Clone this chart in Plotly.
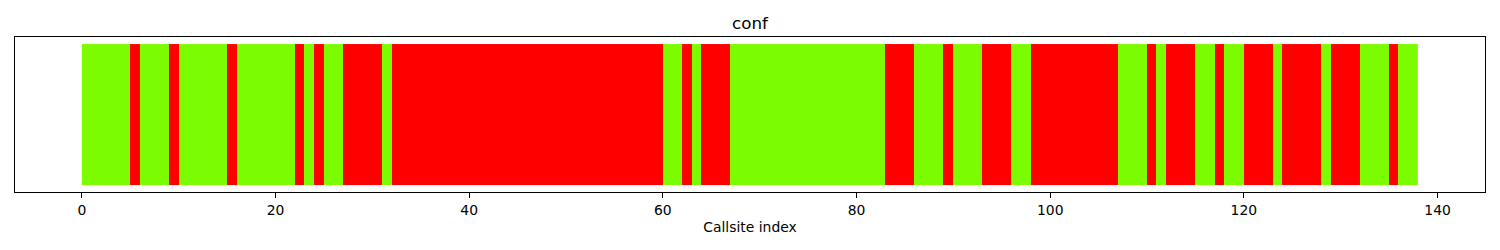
import plotly.graph_objects as go

# 1 = confident (green), 0 = not confident (red), one value per callsite index
conf = [
    1, 1, 1, 1, 1, 0, 1, 1, 1, 0, 1, 1, 1, 1, 1, 0, 1, 1, 1, 1,
    1, 1, 0, 1, 0, 1, 1, 0, 0, 0, 0, 1, 0, 0, 0, 0, 0, 0, 0, 0,
    0, 0, 0, 0, 0, 0, 0, 0, 0, 0, 0, 0, 0, 0, 0, 0, 0, 0, 0, 0,
    1, 1, 0, 1, 0, 0, 0, 1, 1, 1, 1, 1, 1, 1, 1, 1, 1, 1, 1, 1,
    1, 1, 1, 0, 0, 0, 1, 1, 1, 0, 1, 1, 1, 0, 0, 0, 1, 1, 0, 0,
    0, 0, 0, 0, 0, 0, 0, 1, 1, 1, 0, 1, 0, 0, 0, 1, 1, 0, 1, 1,
    0, 0, 0, 1, 0, 0, 0, 0, 1, 0, 0, 0, 1, 1, 1, 0, 1, 1,
]
n = len(conf)
cell_edges_x = list(range(n + 1))   # each callsite occupies [i, i+1)
cell_edges_y = [0, 1]               # bar height 1
green = "#7CFC00"
red = "#FF0000"
tick_vals = [0, 20, 40, 60, 80, 100, 120, 140]

fig = go.Figure(
    go.Heatmap(
        z=[conf],
        x=cell_edges_x,
        y=cell_edges_y,
        zmin=0,
        zmax=1,
        colorscale=[[0, red], [0.5, red], [0.5, green], [1, green]],
        showscale=False,
        hoverinfo="x+z",
    )
)

pad = 0.05 * n
fig.update_layout(
    width=1500,
    height=250,
    margin=dict(l=15, r=15, t=37, b=58),
    plot_bgcolor="white",
    paper_bgcolor="white",
    font=dict(family="DejaVu Sans", size=13.9, color="black"),
    showlegend=False,
    title=dict(
        text="conf",
        x=0.5,
        xanchor="center",
        xref="paper",
        y=1 - 23 / 250,
        yref="container",
        yanchor="middle",
        font=dict(size=16.7, family="DejaVu Sans", color="black"),
    ),
    xaxis=dict(
        range=[-pad, n + pad],
        tickvals=tick_vals,
        ticks="outside",
        ticklen=5,
        tickwidth=1,
        tickcolor="black",
        showgrid=False,
        zeroline=False,
        showline=True,
        linecolor="black",
        linewidth=1,
        mirror=True,
        title=dict(text="Callsite index", standoff=5, font=dict(size=13.9)),
        tickfont=dict(size=13.9),
    ),
    yaxis=dict(
        range=[-0.05, 1.05],
        showticklabels=False,
        ticks="",
        showgrid=False,
        zeroline=False,
        showline=True,
        linecolor="black",
        linewidth=1,
        mirror=True,
    ),
)

fig.write_html("out.html")
